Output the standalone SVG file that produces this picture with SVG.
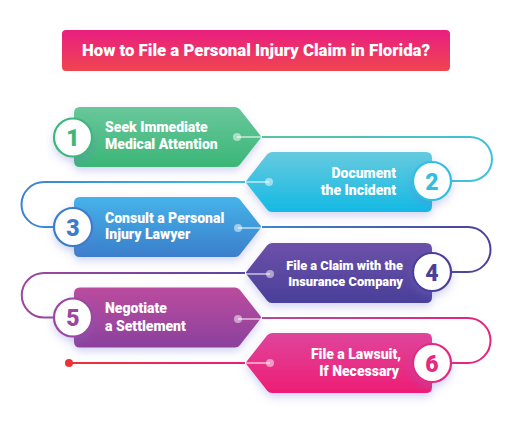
<svg xmlns="http://www.w3.org/2000/svg" width="512" height="425" viewBox="0 0 512 425">
<style>
.t{font-family:Roboto,"Liberation Sans",Arial,sans-serif;font-weight:900;fill:#fff;font-size:14px}
.ts{font-size:12.8px}
.tr{text-anchor:end}
.n{font-family:Roboto,"Liberation Sans",Arial,sans-serif;font-weight:900;font-size:23px;text-anchor:middle}
.ring{fill:#fff;stroke-width:2.2}
.dot{fill:#fff;fill-opacity:0.5}
.dl{stroke:#fff;stroke-opacity:0.5;stroke-width:2;fill:none}
.c{fill:none;stroke-width:2}
</style>
<defs>
<linearGradient id="gT" x1="0" y1="0" x2="0" y2="1"><stop offset="0" stop-color="#e91e80"/><stop offset="1" stop-color="#ef4550"/></linearGradient>
<linearGradient id="g1" x1="0" y1="0" x2="0" y2="1"><stop offset="0" stop-color="#69c79b"/><stop offset="1" stop-color="#3bb677"/></linearGradient>
<linearGradient id="g2" x1="0" y1="0" x2="0" y2="1"><stop offset="0" stop-color="#66cadf"/><stop offset="1" stop-color="#14b9e4"/></linearGradient>
<linearGradient id="g3" x1="0" y1="0" x2="0" y2="1"><stop offset="0" stop-color="#46b3ea"/><stop offset="1" stop-color="#3b7ecb"/></linearGradient>
<linearGradient id="g4" x1="0" y1="0" x2="0" y2="1"><stop offset="0" stop-color="#6c51a9"/><stop offset="1" stop-color="#4a3f99"/></linearGradient>
<linearGradient id="g5" x1="0" y1="0" x2="0" y2="1"><stop offset="0" stop-color="#bb4c9f"/><stop offset="1" stop-color="#8b419d"/></linearGradient>
<linearGradient id="g6" x1="0" y1="0" x2="0" y2="1"><stop offset="0" stop-color="#df459b"/><stop offset="1" stop-color="#ee1d76"/></linearGradient>
<linearGradient id="c1" gradientUnits="userSpaceOnUse" x1="262" y1="0" x2="492" y2="0"><stop offset="0" stop-color="#5ec396"/><stop offset="1" stop-color="#3ec0e0"/></linearGradient>
<linearGradient id="c2" gradientUnits="userSpaceOnUse" x1="245" y1="0" x2="22" y2="0"><stop offset="0" stop-color="#3ec0e0"/><stop offset="1" stop-color="#3b84cf"/></linearGradient>
<linearGradient id="c3" gradientUnits="userSpaceOnUse" x1="262" y1="0" x2="492" y2="0"><stop offset="0" stop-color="#3f86cf"/><stop offset="1" stop-color="#4c3f99"/></linearGradient>
<linearGradient id="c4" gradientUnits="userSpaceOnUse" x1="245" y1="0" x2="22" y2="0"><stop offset="0" stop-color="#5a45a0"/><stop offset="1" stop-color="#a0479f"/></linearGradient>
<linearGradient id="c5" gradientUnits="userSpaceOnUse" x1="262" y1="0" x2="492" y2="0"><stop offset="0" stop-color="#b04a9f"/><stop offset="1" stop-color="#e8227c"/></linearGradient>
<linearGradient id="c6" gradientUnits="userSpaceOnUse" x1="245" y1="0" x2="69" y2="0"><stop offset="0" stop-color="#ea1f78"/><stop offset="1" stop-color="#ea3338"/></linearGradient>
<filter id="sh" x="-20%" y="-30%" width="140%" height="170%"><feDropShadow dx="0" dy="4" stdDeviation="4" flood-color="#6f73d6" flood-opacity="0.3"/></filter>
</defs>
<rect width="512" height="425" fill="#fff"/>

<g id="title">
<rect x="62" y="30" width="388" height="41" rx="4" fill="url(#gT)"/>
<text x="256" y="56" text-anchor="middle" style="font-family:Roboto,'Liberation Sans',Arial,sans-serif;font-weight:900;font-size:16.8px;fill:#fff">How to File a Personal Injury Claim in Florida?</text>
</g>

<g id="connectors">
<path class="c" stroke="url(#c1)" d="M262 137 H470 A22 22 0 0 1 470 181 H452"/>
<path class="c" stroke="url(#c2)" d="M245 182 H44 A22.5 22.5 0 0 0 44 227 H53"/>
<path class="c" stroke="url(#c3)" d="M262 227 H468 A22.5 22.5 0 0 1 468 272 H452"/>
<path class="c" stroke="url(#c4)" d="M245 273 H44 A22.25 22.25 0 0 0 44 317.5 H53"/>
<path class="c" stroke="url(#c5)" d="M262 318 H468 A22.5 22.5 0 0 1 468 363 H452"/>
<path class="c" stroke="url(#c6)" d="M245 363 H69"/>
<circle cx="69" cy="363" r="4" fill="#ea3338"/>
</g>

<g id="step1">
<path filter="url(#sh)" fill="url(#g1)" d="M80 107 H235 Q238 107 240 109.5 L260 135 Q262 137 260 139 L240 164.5 Q238 167 235 167 H80 Q74 167 74 161 V113 Q74 107 80 107 Z"/>
<line class="dl" x1="237" y1="137" x2="262" y2="137"/><circle class="dot" cx="237" cy="137" r="4"/>
<circle class="ring" filter="url(#sh)" cx="73" cy="137.5" r="19" stroke="#3cb77a"/>
<text class="n" x="73" y="146" fill="#3cb77a">1</text>
<text class="t" x="105" y="132">Seek Immediate</text>
<text class="t" x="105" y="149">Medical Attention</text>
</g>

<g id="step2">
<path filter="url(#sh)" fill="url(#g2)" d="M426 152 H272 Q269 152 267 154.5 L247 180 Q245 182 247 184 L267 209.5 Q269 212 272 212 H426 Q432 212 432 206 V158 Q432 152 426 152 Z"/>
<line class="dl" x1="269" y1="182" x2="245" y2="182"/><circle class="dot" cx="269" cy="182" r="4"/>
<circle class="ring" filter="url(#sh)" cx="432" cy="181" r="19" stroke="#2ebfe2"/>
<text class="n" x="432" y="189.5" fill="#2ebfe2">2</text>
<text class="t tr" x="396" y="178">Document</text>
<text class="t tr" x="396" y="195">the Incident</text>
</g>

<g id="step3">
<path filter="url(#sh)" fill="url(#g3)" d="M80 197 H235 Q238 197 240 199.5 L260 225 Q262 227 260 229 L240 254.5 Q238 257 235 257 H80 Q74 257 74 251 V203 Q74 197 80 197 Z"/>
<line class="dl" x1="238" y1="228" x2="262" y2="228"/><circle class="dot" cx="238" cy="228" r="4"/>
<circle class="ring" filter="url(#sh)" cx="73" cy="227" r="19" stroke="#3b7dca"/>
<text class="n" x="73" y="235.5" fill="#3b7dca">3</text>
<text class="t" x="105" y="223">Consult a Personal</text>
<text class="t" x="105" y="239">Injury Lawyer</text>
</g>

<g id="step4">
<path filter="url(#sh)" fill="url(#g4)" d="M426 243 H272 Q269 243 267 245.5 L247 271 Q245 273 247 275 L267 300.5 Q269 303 272 303 H426 Q432 303 432 297 V249 Q432 243 426 243 Z"/>
<line class="dl" x1="270" y1="274" x2="245" y2="274"/><circle class="dot" cx="270" cy="274" r="4"/>
<circle class="ring" filter="url(#sh)" cx="432" cy="272" r="19" stroke="#4c3f99"/>
<text class="n" x="432" y="280.5" fill="#4c3f99">4</text>
<text class="t ts tr" x="403" y="270">File a Claim with the</text>
<text class="t ts tr" x="403" y="286">Insurance Company</text>
</g>

<g id="step5">
<path filter="url(#sh)" fill="url(#g5)" d="M80 287.5 H235 Q238 287.5 240 290 L260 315.5 Q262 317.5 260 319.5 L240 345 Q238 347.5 235 347.5 H80 Q74 347.5 74 341.5 V293.5 Q74 287.5 80 287.5 Z"/>
<line class="dl" x1="238" y1="319" x2="262" y2="319"/><circle class="dot" cx="238" cy="319" r="4"/>
<circle class="ring" filter="url(#sh)" cx="73" cy="317.5" r="19" stroke="#9b469f"/>
<text class="n" x="73" y="326" fill="#9b469f">5</text>
<text class="t" x="105" y="313">Negotiate</text>
<text class="t" x="105" y="330.5">a Settlement</text>
</g>

<g id="step6">
<path filter="url(#sh)" fill="url(#g6)" d="M426 333 H272 Q269 333 267 335.5 L247 361 Q245 363 247 365 L267 390.5 Q269 393 272 393 H426 Q432 393 432 387 V339 Q432 333 426 333 Z"/>
<line class="dl" x1="270" y1="363" x2="245" y2="363"/><circle class="dot" cx="270" cy="363" r="4"/>
<circle class="ring" filter="url(#sh)" cx="432" cy="363" r="19" stroke="#e6287f"/>
<text class="n" x="432" y="371.5" fill="#e6287f">6</text>
<text class="t tr" x="401" y="359">File a Lawsuit,</text>
<text class="t tr" x="399" y="376">If Necessary</text>
</g>
</svg>
